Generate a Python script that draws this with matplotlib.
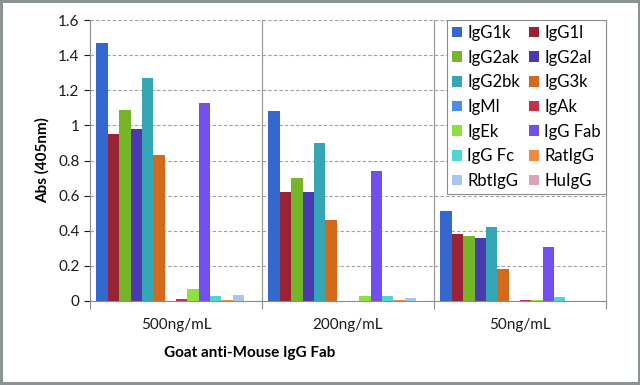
import matplotlib
matplotlib.use("Agg")
import matplotlib.pyplot as plt
import numpy as np
from matplotlib.patches import Rectangle

plt.rcParams['font.family'] = ['Lato', 'DejaVu Sans']

groups = ["500ng/mL", "200ng/mL", "50ng/mL"]
series = ["IgG1k", "IgG1l", "IgG2ak", "IgG2al", "IgG2bk", "IgG3k", "IgMl", "IgAk",
          "IgEk", "IgG Fab", "IgG Fc", "RatIgG", "RbtIgG", "HuIgG"]
values = {
    "IgG1k":   [1.47, 1.08, 0.51],
    "IgG1l":   [0.95, 0.62, 0.38],
    "IgG2ak":  [1.09, 0.70, 0.37],
    "IgG2al":  [0.98, 0.62, 0.36],
    "IgG2bk":  [1.27, 0.90, 0.42],
    "IgG3k":   [0.83, 0.46, 0.18],
    "IgMl":    [0.0, 0.0, 0.0],
    "IgAk":    [0.01, 0.0, 0.006],
    "IgEk":    [0.07, 0.03, 0.004],
    "IgG Fab": [1.13, 0.74, 0.31],
    "IgG Fc":  [0.03, 0.03, 0.025],
    "RatIgG":  [0.006, 0.006, 0.0],
    "RbtIgG":  [0.035, 0.015, 0.0],
    "HuIgG":   [0.0, 0.0, 0.0],
}
colors = ["#3468CF", "#9A2235", "#74B627", "#4A3AB2", "#35A6B3", "#D2691C",
          "#4A8FE3", "#C2304C", "#8EE03C", "#7150EE", "#52D5CE", "#F08A3C",
          "#A8C6EE", "#E0A2BA"]

fig = plt.figure(figsize=(6.4, 3.85), dpi=100)
ax = fig.add_axes([90/640, 1-301/385, (606-90)/640, (301-20)/385])

n = len(series)
bw = 0.925 / n
x0 = np.arange(len(groups))
bars = []
for i, s in enumerate(series):
    b = ax.bar(x0 - 0.4625 + bw*(i+0.5), values[s], width=bw, color=colors[i], label=s, zorder=3)
    bars.append(b)

ax.set_xlim(-0.5, 2.5)
ax.set_ylim(0, 1.6)
ax.set_yticks(np.arange(0, 1.61, 0.2))
ax.set_yticklabels(["0", "0.2", "0.4", "0.6", "0.8", "1", "1.2", "1.4", "1.6"])
ax.set_xticks(x0)
ax.set_xticklabels(groups)
ax.tick_params(axis='x', length=0, labelsize=11, pad=12, colors="#1a1a1a")
ax.tick_params(axis='y', length=4, labelsize=11, colors="#1a1a1a", width=0.8)
for t in ax.get_yticklines():
    t.set_color("#8c8c8c")
ax.set_xticks([0.5, 1.5, 2.5, -0.5], minor=True)
ax.tick_params(axis='x', which='minor', length=6, color="#8c8c8c", width=0.8)

ax.yaxis.grid(True, linestyle=(0, (3, 2)), color="#a0a0a0", linewidth=0.8, zorder=0)
for xv in [0.5, 1.5]:
    ax.axvline(xv, color="#9a9a9a", linewidth=0.9, zorder=1)
ax.spines["top"].set_visible(False)
ax.spines["right"].set_color("#9a9a9a")
ax.spines["left"].set_color("#8c8c8c")
ax.spines["bottom"].set_color("#8c8c8c")

ax.set_ylabel("Abs (405nm)", fontsize=11, fontweight='bold', labelpad=6)
fig.text(250/640, 1-353/385, "Goat anti-Mouse IgG Fab", fontsize=11, fontweight='bold',
         ha='center', va='center')

order = list(range(0, n, 2)) + list(range(1, n, 2))
leg = ax.legend([bars[k] for k in order], [series[k] for k in order],
                ncol=2, loc='upper right', bbox_to_anchor=(1.0, 1.0), fontsize=12,
                frameon=True, fancybox=False, edgecolor="#8c8c8c", framealpha=1,
                handlelength=0.6, handleheight=0.6, handletextpad=0.35,
                columnspacing=0.5, labelspacing=0.52, borderpad=0.3, borderaxespad=0)
leg.get_frame().set_linewidth(0.8)
leg.set_zorder(5)

fig.patches.append(Rectangle((0.002, 0.004), 0.996, 0.993, transform=fig.transFigure,
                             fill=False, edgecolor="#8a9494", linewidth=2.2))

fig.savefig("out.png", dpi=100)
